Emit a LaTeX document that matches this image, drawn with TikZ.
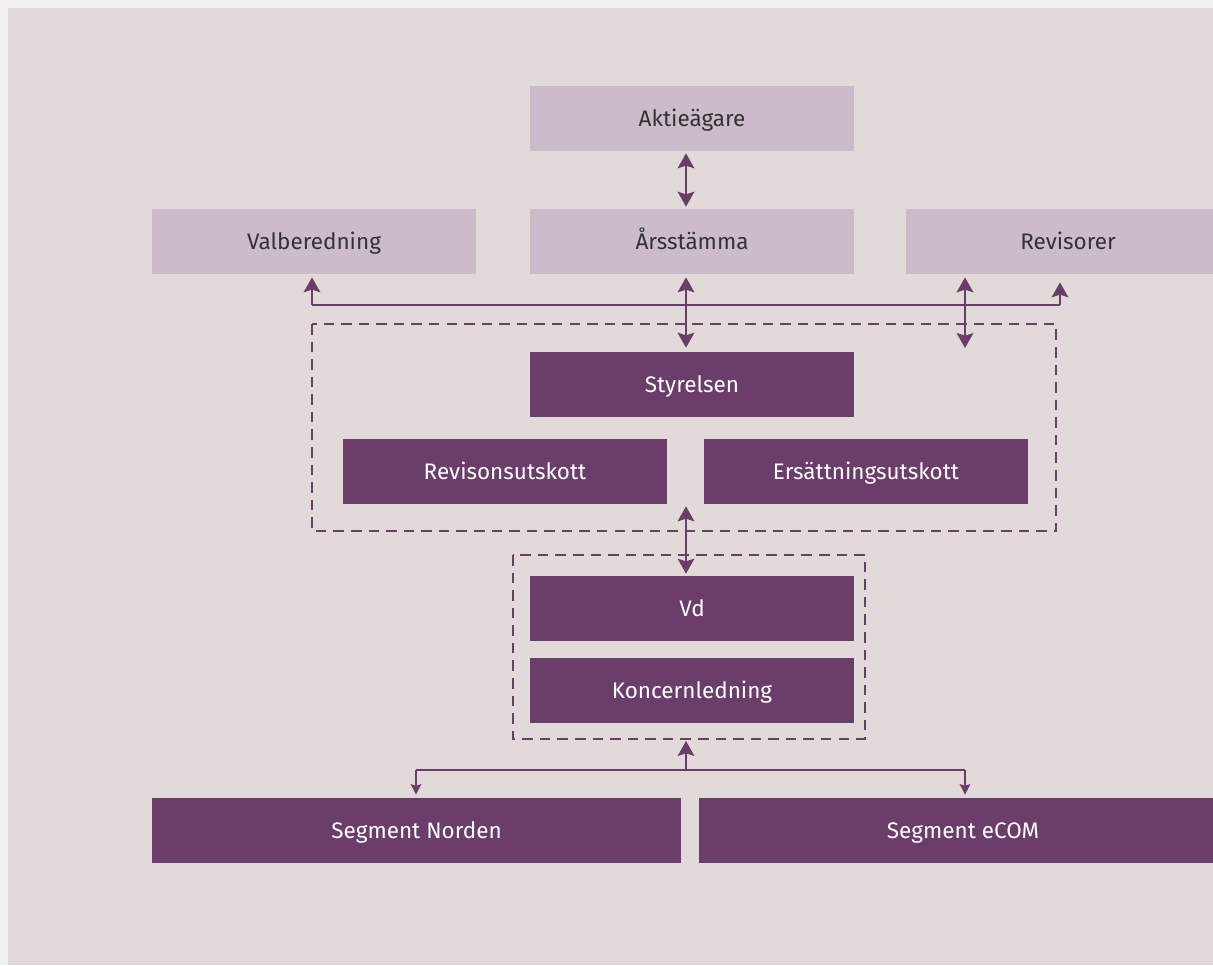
\documentclass[tikz,border=0pt]{standalone}
\usepackage{fontspec}
\setmainfont{Fira Sans}
\usetikzlibrary{arrows.meta}

\definecolor{plum}{HTML}{6A3D6A}
\definecolor{lilac}{HTML}{CBBBCB}
\definecolor{panel}{HTML}{E2DAD9}
\definecolor{outer}{HTML}{F2F1EF}
\definecolor{ink}{HTML}{333333}

\begin{document}
\begin{tikzpicture}[x=0.02cm, y=-0.02cm,
  every node/.style={font=\fontsize{12.8}{15}\selectfont, inner sep=0pt,
    text height=11pt, text depth=2pt},
  light/.style={fill=lilac, text=ink, minimum width=6.48cm, minimum height=1.3cm},
  dark/.style={fill=plum, text=white, minimum width=6.48cm, minimum height=1.3cm},
  wide/.style={dark, minimum width=10.57cm},
  link/.style={draw=plum, line width=1.1pt},
  tip/.tip={Stealth[length=8.5pt, width=9.5pt, inset=1.5pt]},
  smalltip/.tip={Stealth[length=6pt, width=6pt, inset=1pt]},
  both/.style={link, tip-tip},
  up/.style={link, -tip},
  down/.style={draw=plum, line width=0.8pt, -smalltip},
  frame/.style={draw=plum, line width=1.1pt, dash pattern=on 6pt off 4pt}
]
  % background
  \useasboundingbox (0,0) rectangle (1213,965);
  \fill[outer] (0,0) rectangle (1213,965);
  \fill[panel] (8,8) rectangle (1213,965);

  % owners and meeting
  \node[light] (owners) at (692,118.5) {Aktieägare};
  \node[light] (nomination) at (314,241.5) {Valberedning};
  \node[light] (agm) at (692,241.5) {Årsstämma};
  \node[light] (auditors) at (1068,241.5) {Revisorer};

  % board
  \draw[frame] (312,324) rectangle (1056,531);
  \node[dark] (board) at (692,384.5) {Styrelsen};
  \node[dark] (audit) at (505,471.5) {Revisonsutskott};
  \node[dark] (pay) at (866,471.5) {Ersättningsutskott};

  % management
  \draw[frame] (513,555) rectangle (865,739);
  \node[dark] (ceo) at (692,608.5) {Vd};
  \node[dark] (mgmt) at (692,690.5) {Koncernledning};
  \coordinate (mgmtbox) at (686,741);

  % segments
  \node[wide] (north) at (416.5,830.5) {Segment Norden};
  \node[wide] (ecom) at (963,830.5) {Segment eCOM};

  % connectors
  \coordinate (hl) at (312,305);
  \coordinate (hr) at (1060,305);
  \coordinate (hm) at (686,305);
  \coordinate (auditend) at (965,348);
  \draw[both] ([yshift=-0.04cm]owners.south -| hm) -- ([yshift=0.04cm]agm.north -| hm);
  \draw[link] (hl) -- (hr);
  \draw[up] (hl) -- ([yshift=-0.06cm]nomination.south -| hl);
  \draw[up] (hr) -- ([yshift=-0.16cm]auditors.south -| hr);
  \draw[both] ([yshift=-0.06cm]agm.south -| hm) -- ([yshift=0.08cm]board.north -| hm);
  \draw[both] ([yshift=-0.06cm]auditors.south -| auditend) -- (auditend);
  \draw[both] ([yshift=-0.04cm]pay.south -| hm) -- ([yshift=0.04cm]ceo.north -| hm);

  \coordinate (bm) at (686,770);
  \coordinate (bl) at (416,770);
  \coordinate (br) at (965,770);
  \draw[up] (bm) -- (mgmtbox);
  \draw[draw=plum, line width=0.8pt] (bl) -- (br);
  \draw[down] (bl) -- ([yshift=0.06cm]north.north -| bl);
  \draw[down] (br) -- ([yshift=0.06cm]ecom.north -| br);
\end{tikzpicture}
\end{document}
